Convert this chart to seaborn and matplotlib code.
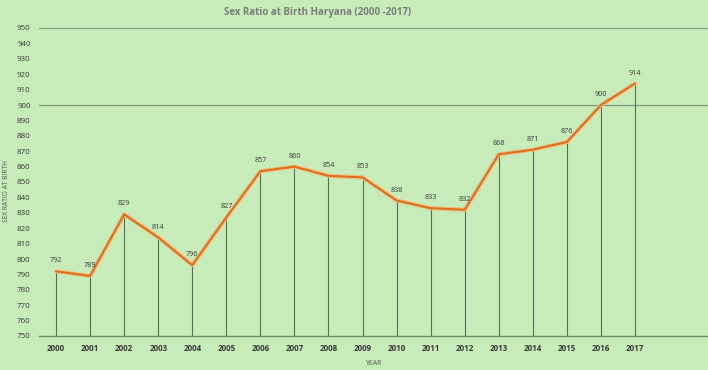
import matplotlib
matplotlib.use("Agg")
import matplotlib.pyplot as plt
import matplotlib.patheffects as pe
import seaborn as sns
import pandas as pd

years = ["2000", "2001", "2002", "2003", "2004", "2005", "2006", "2007", "2008",
         "2009", "2010", "2011", "2012", "2013", "2014", "2015", "2016", "2017"]
ratio = [792, 789, 829, 814, 796, 827, 857, 860, 854, 853, 838, 833, 832,
         868, 871, 876, 900, 914]
yticks = list(range(750, 951, 10))

bg = "#c7ecba"
sns.set_theme(style="white")
plt.rcParams["font.family"] = ["Open Sans", "DejaVu Sans"]

fig = plt.figure(figsize=(7.08, 3.70), dpi=100, facecolor=bg)
ax = fig.add_axes([39 / 708, 1 - 336 / 370, 1 - 39 / 708, (336 - 28) / 370])
ax.set_facecolor(bg)

df = pd.DataFrame({"year": years, "ratio": ratio})
pos = list(range(len(years)))

ax.vlines(pos, 750, ratio, color="#556f55", lw=0.8, zorder=2)
for g in (900, 950):
    ax.axhline(g, color="#7d9a7a", lw=0.9, zorder=1)

sns.lineplot(data=df, x="year", y="ratio", ax=ax, color="#dc7020", lw=1.5,
             sort=False, zorder=4,
             path_effects=[pe.Stroke(linewidth=3.0, foreground="#eec07e"), pe.Normal()])

for p, v in zip(pos, ratio):
    ax.text(p, v + 4.5, str(v), ha="center", va="bottom", fontsize=5.2,
            color="#3a3a3a", zorder=5)

ax.set_xlim(-0.5, (708 - 56) / 34.06)
ax.set_ylim(750, 950)
ax.set_yticks(yticks)
ax.set_yticklabels([str(t) for t in yticks], fontsize=5.8, color="#3a3a3a")
ax.set_xticks(pos)
ax.set_xticklabels(years, fontsize=5.8, color="#3a3a3a", fontweight="bold")
ax.tick_params(axis="both", length=0, pad=6)
for s in ("top", "right", "left"):
    ax.spines[s].set_visible(False)
ax.spines["bottom"].set_color("#6f8c6c")
ax.spines["bottom"].set_linewidth(1.0)
ax.grid(False)

ax.set_xlabel("YEAR", fontsize=5, color="#555555", labelpad=5)
ax.set_ylabel("SEX RATIO AT BIRTH", fontsize=4.8, color="#555555")
ax.yaxis.set_label_coords(-0.043, 0.47)
fig.text(318 / 708, 1 - 12 / 370, "Sex Ratio at Birth Haryana (2000 -2017)",
         ha="center", va="center", fontsize=7, fontweight="bold", color="#7c7c7c")

fig.savefig("out.png", dpi=100, facecolor=bg)
